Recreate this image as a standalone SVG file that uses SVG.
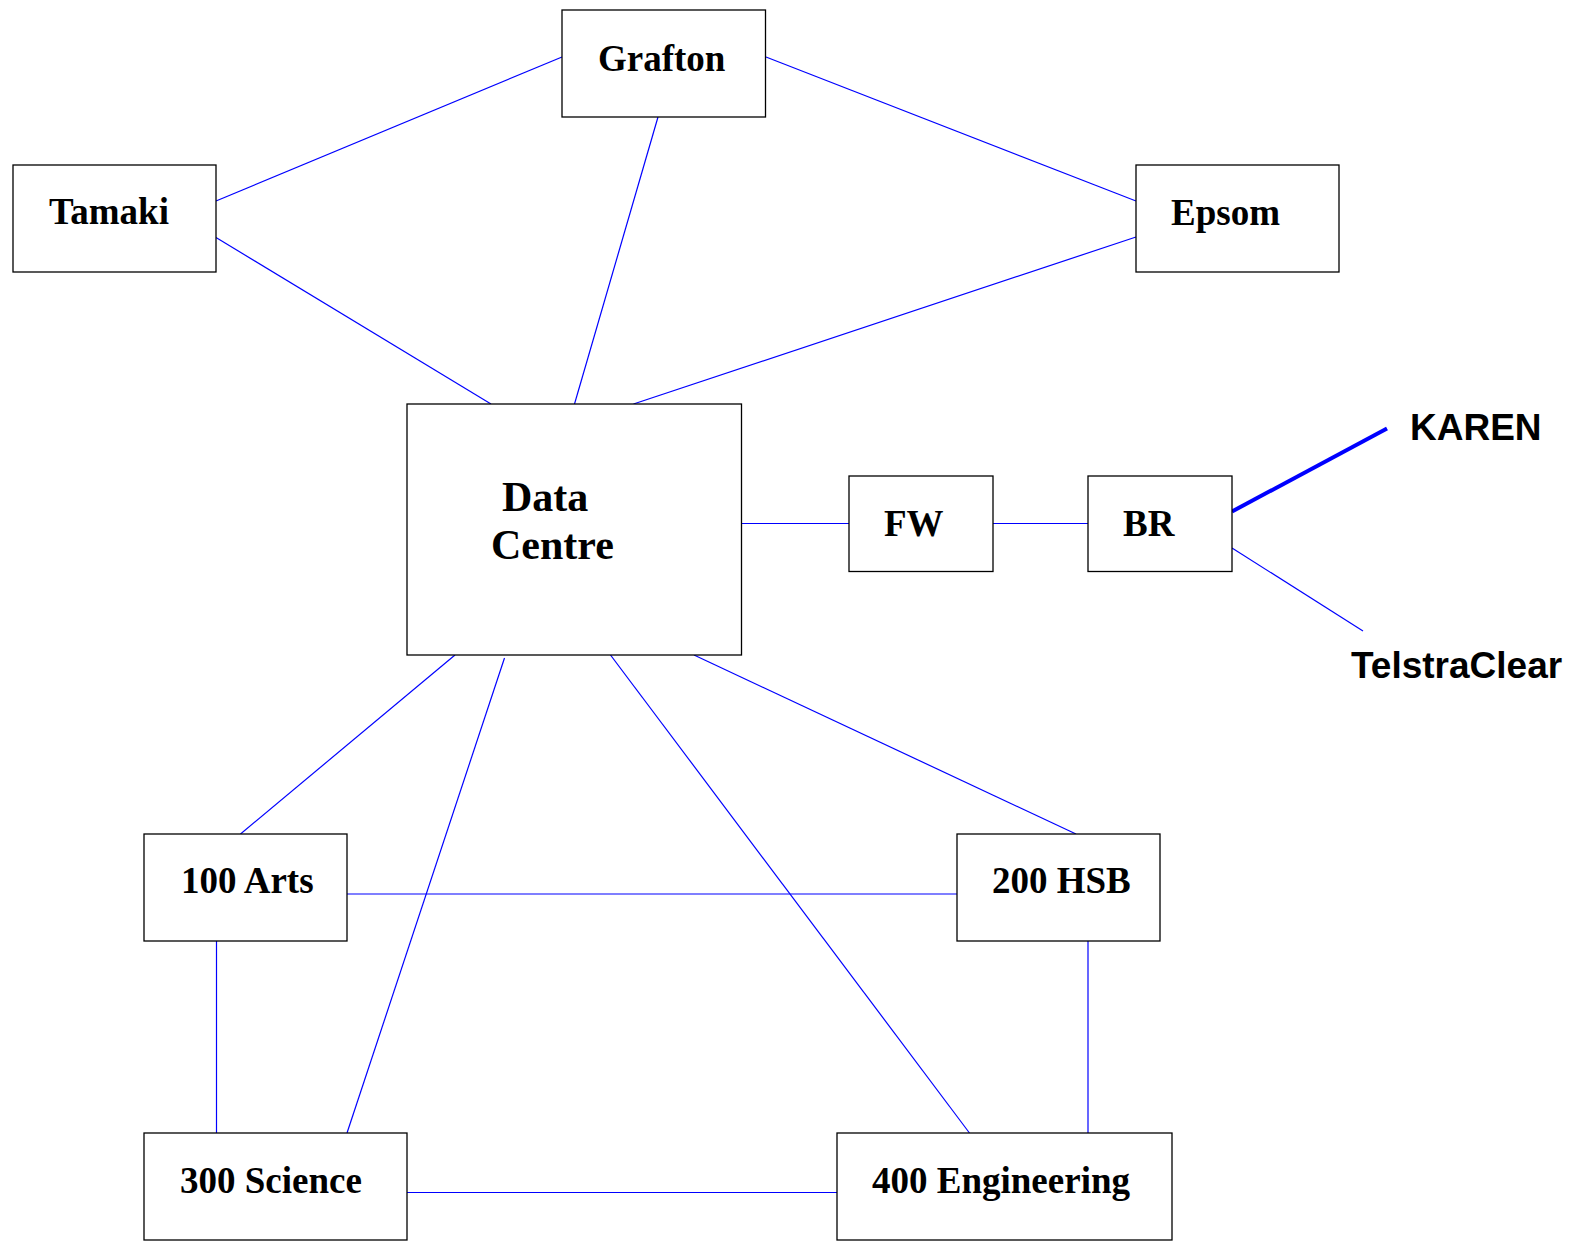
<svg xmlns="http://www.w3.org/2000/svg" width="1572" height="1247" viewBox="0 0 1572 1247">
<style>
.box{fill:#fff;stroke:#000;stroke-width:1.3}
.lbl{font-family:"Liberation Serif","Times New Roman",serif;font-weight:bold;font-size:37px;fill:#000}
.ext{font-family:"Liberation Sans",Arial,sans-serif;font-weight:bold;font-size:37px;fill:#000}
.c{stroke:#0000ff;stroke-width:1.2;fill:none}
</style>
<rect width="1572" height="1247" fill="#fff"/>
<g id="connectors">
<line class="c" x1="216" y1="201" x2="562" y2="57"/>
<line class="c" x1="766" y1="57" x2="1136" y2="201"/>
<line class="c" x1="216" y1="237.5" x2="491" y2="404"/>
<line class="c" x1="658" y1="117" x2="574.5" y2="404"/>
<line class="c" x1="1136" y1="237" x2="633.5" y2="404"/>
<line class="c" x1="741" y1="523.5" x2="849" y2="523.5"/>
<line class="c" x1="993" y1="523.5" x2="1088" y2="523.5"/>
<line class="c" x1="455" y1="655" x2="240.5" y2="834"/>
<line class="c" x1="504.5" y1="658" x2="347" y2="1133"/>
<line class="c" x1="610.5" y1="655" x2="969.5" y2="1133"/>
<line class="c" x1="694" y1="655" x2="1076" y2="834"/>
<line class="c" x1="347" y1="894" x2="957" y2="894"/>
<line class="c" x1="216.5" y1="941" x2="216.5" y2="1133"/>
<line class="c" x1="1088" y1="941" x2="1088" y2="1133"/>
<line class="c" x1="407" y1="1192.5" x2="837" y2="1192.5"/>
<line x1="1232" y1="511.5" x2="1387" y2="428.5" stroke="#0000ff" stroke-width="4"/>
<line class="c" x1="1232" y1="548" x2="1363" y2="631"/>
</g>
<g id="grafton"><rect class="box" x="562" y="10" width="203.5" height="107"/><text class="lbl" x="598" y="71">Grafton</text></g>
<g id="tamaki"><rect class="box" x="13" y="165" width="203" height="107"/><text class="lbl" x="49" y="224">Tamaki</text></g>
<g id="epsom"><rect class="box" x="1136" y="165" width="203" height="107"/><text class="lbl" x="1171" y="225">Epsom</text></g>
<g id="datacentre"><rect class="box" x="407" y="404" width="334.5" height="251"/><text class="lbl" style="font-size:42px" x="502" y="511">Data</text><text class="lbl" style="font-size:42px" x="491" y="559">Centre</text></g>
<g id="fw"><rect class="box" x="849" y="476" width="144" height="95.5"/><text class="lbl" x="884" y="536">FW</text></g>
<g id="br"><rect class="box" x="1088" y="476" width="144" height="95.5"/><text class="lbl" x="1123" y="536">BR</text></g>
<g id="karen"><text class="ext" x="1410" y="440">KAREN</text></g>
<g id="telstraclear"><text class="ext" x="1351" y="678">TelstraClear</text></g>
<g id="arts"><rect class="box" x="144" y="834" width="203" height="107"/><text class="lbl" x="181" y="893">100 Arts</text></g>
<g id="hsb"><rect class="box" x="957" y="834" width="203" height="107"/><text class="lbl" x="992" y="893">200 HSB</text></g>
<g id="science"><rect class="box" x="144" y="1133" width="263" height="107"/><text class="lbl" x="180" y="1193">300 Science</text></g>
<g id="engineering"><rect class="box" x="837" y="1133" width="335" height="107"/><text class="lbl" x="872" y="1193">400 Engineering</text></g>
</svg>
